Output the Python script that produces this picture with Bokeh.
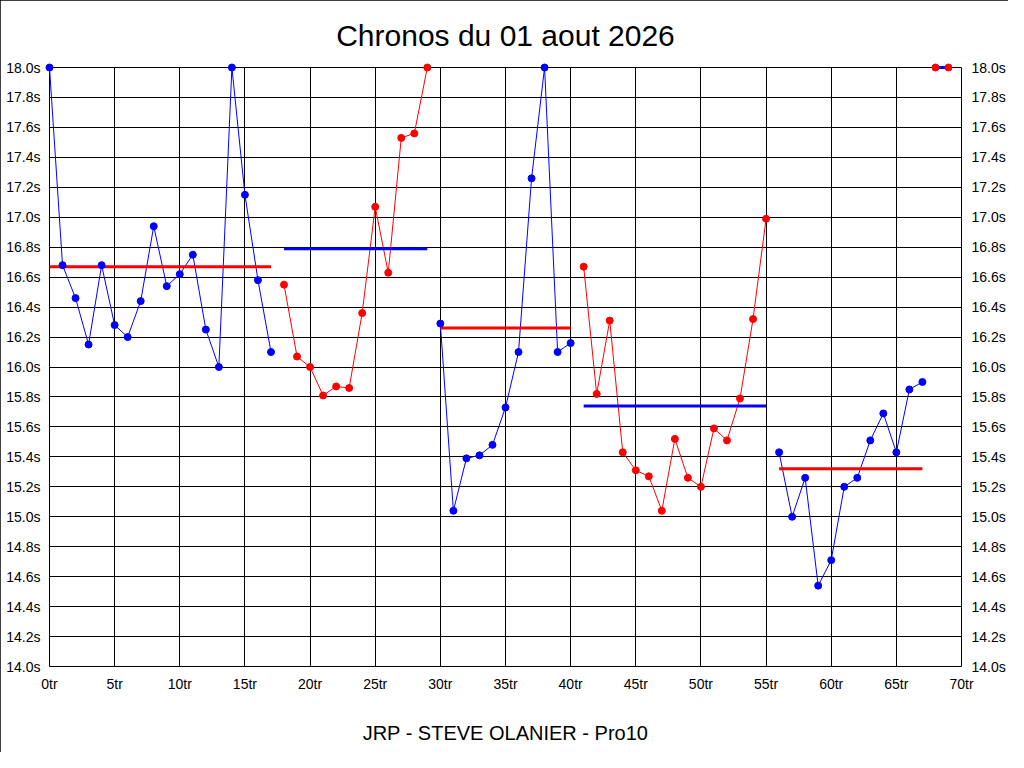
from bokeh.plotting import figure
from bokeh.models import (ColumnDataSource, LinearAxis, FixedTicker, PrintfTickFormatter, Range1d)
from bokeh.embed import file_html
from bokeh.resources import INLINE

# ---- data ----
laps = list(range(70))
times = [
    18.00, 16.68, 16.46, 16.15, 16.68, 16.28, 16.20, 16.44, 16.94, 16.54,
    16.62, 16.75, 16.25, 16.00, 18.00, 17.15, 16.58, 16.10,
    16.55, 16.07, 16.00, 15.81, 15.87, 15.86, 16.36, 17.07, 16.63, 17.53,
    17.56, 18.00,
    16.29, 15.04, 15.39, 15.41, 15.48, 15.73, 16.10, 17.26, 18.00, 16.10,
    16.16,
    16.67, 15.82, 16.31, 15.43, 15.31, 15.27, 15.04, 15.52, 15.26, 15.20,
    15.59, 15.51, 15.79, 16.32, 16.99,
    15.43, 15.00, 15.26, 14.54, 14.71, 15.20, 15.26, 15.51, 15.69, 15.43,
    15.85, 15.90,
    18.00, 18.00,
]
seg_start = [0, 18, 30, 41, 56, 68]
seg_end = [17, 29, 40, 55, 67, 69]
seg_mean = [16.67, 16.79, 16.26, 15.74, 15.32, 18.00]
seg_color = ["blue", "red", "blue", "red", "blue", "red"]
mean_color = ["red", "blue", "red", "blue", "red", "blue"]

x_ticks = [0, 5, 10, 15, 20, 25, 30, 35, 40, 45, 50, 55, 60, 65, 70]
y_ticks = [14.0, 14.2, 14.4, 14.6, 14.8, 15.0, 15.2, 15.4, 15.6, 15.8,
           16.0, 16.2, 16.4, 16.6, 16.8, 17.0, 17.2, 17.4, 17.6, 17.8, 18.0]

title_text = "Chronos du 01 aout 2026"
xlabel_text = "JRP - STEVE OLANIER - Pro10"

FONT = "Liberation Sans"

p = figure(width=1008, height=752, output_backend="svg", toolbar_location=None,
           x_range=Range1d(0, 70), y_range=Range1d(14, 18),
           min_border_left=49, min_border_right=41, min_border_top=66,
           min_border_bottom=86)
p.styles = {"outline": "1px solid black", "outline-offset": "-1px"}

p.title.text = title_text
p.title.align = "center"
p.title.text_font = FONT
p.title.text_font_size = "30px"
p.title.text_font_style = "normal"
p.title.text_color = "black"
p.title.standoff = 32

p.outline_line_color = "black"
p.outline_line_width = 1
p.outline_line_alpha = 1

for g in (p.xgrid, p.ygrid):
    g.grid_line_color = "black"
    g.grid_line_alpha = 1
    g.grid_line_width = 1
p.xgrid.ticker = FixedTicker(ticks=x_ticks)
p.ygrid.ticker = FixedTicker(ticks=y_ticks)

xa = p.xaxis[0]
xa.ticker = FixedTicker(ticks=x_ticks)
xa.formatter = PrintfTickFormatter(format="%dtr")
xa.axis_label = xlabel_text
xa.axis_label_text_font = FONT
xa.axis_label_text_font_size = "20px"
xa.axis_label_text_font_style = "normal"
xa.axis_label_text_color = "black"
xa.axis_label_standoff = 27

ya = p.yaxis[0]
ya.ticker = FixedTicker(ticks=y_ticks)
ya.formatter = PrintfTickFormatter(format="%.1fs")

ra = LinearAxis(ticker=FixedTicker(ticks=y_ticks), formatter=PrintfTickFormatter(format="%.1fs"))
p.add_layout(ra, "right")

for ax, st in ((xa, 3), (ya, 3), (ra, 4)):
    ax.major_tick_line_color = None
    ax.minor_tick_line_color = None
    ax.axis_line_color = None
    ax.major_label_text_font = FONT
    ax.major_label_text_font_size = "14px"
    ax.major_label_text_color = "black"
    ax.major_label_standoff = st

for s, e, m, c, mc in zip(seg_start, seg_end, seg_mean, seg_color, mean_color):
    src = ColumnDataSource(dict(x=laps[s:e + 1], y=times[s:e + 1]))
    p.line("x", "y", source=src, line_color=c, line_width=1, level="overlay")
    p.line([laps[s], laps[e]], [m, m], line_color=mc, line_width=3, level="overlay")
    p.scatter("x", "y", source=src, marker="circle", size=7, fill_color=c,
              line_color=c, level="overlay")

open("out.html", "w").write(file_html(p, INLINE))
